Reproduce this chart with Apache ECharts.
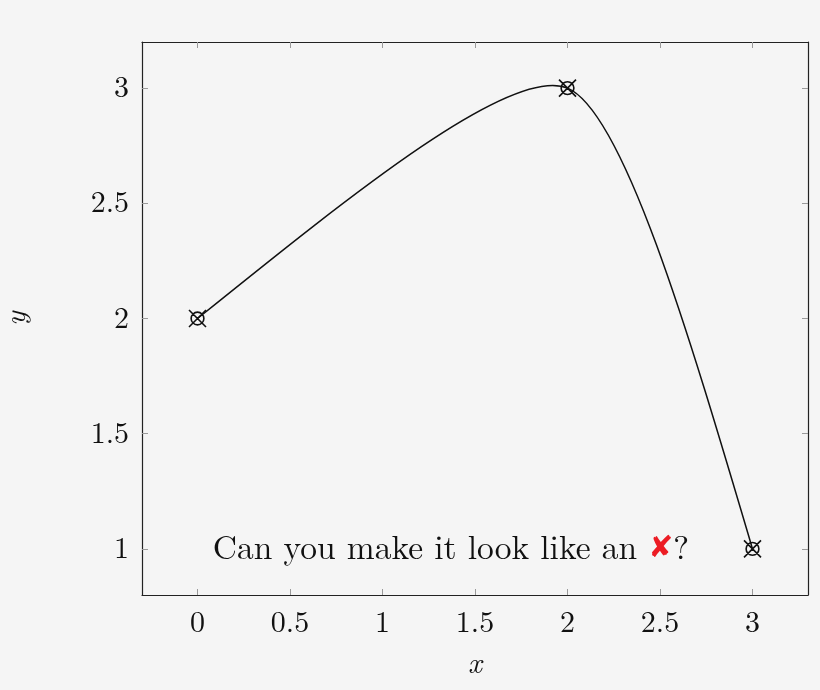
<!DOCTYPE html>
<html>
<head>
<meta charset="utf-8">
<script src="https://cdn.jsdelivr.net/npm/echarts@6/dist/echarts.min.js"></script>
<style>
  html, body { margin: 0; padding: 0; background: #f5f5f5; }
  #chart { width: 820px; height: 690px; }
</style>
</head>
<body>
<div id="chart"></div>
<script>
// data
var xs = [0, 2, 3];
var ys = [2, 3, 1];
var xTicks = [0, 0.5, 1, 1.5, 2, 2.5, 3];
var yTicks = [1, 1.5, 2, 2.5, 3];
var noteAt = [1.37, 1];

var chart = echarts.init(document.getElementById('chart'));
var serif = '"Latin Modern Roman", "Liberation Serif", "DejaVu Serif", serif';
// circle with a cross through it
var otimes = 'path://M2,2 L18,18 M18,2 L2,18 M16,10 A6,6 0 1,1 4,10 A6,6 0 1,1 16,10 Z';
var tension = 0.1;

var points = xs.map(function (x, i) { return [x, ys[i]]; });

// smooth curve through the points, tikz style: interior tangents from the
// neighbours, free ends get a natural end control
function renderCurve(params, api) {
    if (params.dataIndex !== 0) return;
    var p = points.map(function (d) { return api.coord(d); });
    var n = p.length;
    var tan = p.map(function (pt, i) {
        if (i === 0 || i === n - 1) return null;
        return [tension * (p[i + 1][0] - p[i - 1][0]), tension * (p[i + 1][1] - p[i - 1][1])];
    });
    var kids = [];
    for (var i = 0; i < n - 1; i++) {
        var a = p[i], b = p[i + 1];
        var c1 = tan[i] ? [a[0] + tan[i][0], a[1] + tan[i][1]] : null;
        var c2 = tan[i + 1] ? [b[0] - tan[i + 1][0], b[1] - tan[i + 1][1]] : null;
        if (!c1 && !c2) { c1 = a; c2 = b; }
        if (!c1) c1 = [(a[0] + c2[0]) / 2, (a[1] + c2[1]) / 2];
        if (!c2) c2 = [(b[0] + c1[0]) / 2, (b[1] + c1[1]) / 2];
        kids.push({
            type: 'bezierCurve',
            shape: { x1: a[0], y1: a[1], cpx1: c1[0], cpy1: c1[1], cpx2: c2[0], cpy2: c2[1], x2: b[0], y2: b[1] },
            style: { fill: null, stroke: '#111', lineWidth: 1.5 }
        });
    }
    return { type: 'group', children: kids };
}

function axisBase(pos, ticks, min, max, labels) {
    return {
        type: 'value',
        position: pos,
        min: min,
        max: max,
        axisLine: { show: true, onZero: false, lineStyle: { color: '#222', width: 1.2 } },
        axisTick: { show: true, inside: true, length: 6, customValues: ticks, lineStyle: { color: '#9a9a9a', width: 1 } },
        axisLabel: { show: labels, customValues: ticks, color: '#111', fontFamily: serif, fontSize: 30, margin: 13 },
        splitLine: { show: false }
    };
}

var xBottom = axisBase('bottom', xTicks, -0.3, 3.3, true);
xBottom.name = 'x';
xBottom.nameLocation = 'middle';
xBottom.nameGap = 54;
xBottom.nameTextStyle = { fontFamily: serif, fontStyle: 'italic', fontSize: 30, color: '#111' };
var xTop = axisBase('top', xTicks, -0.3, 3.3, false);

var yLeft = axisBase('left', yTicks, 0.8, 3.2, true);
yLeft.name = 'y';
yLeft.nameLocation = 'middle';
yLeft.nameGap = 111;
yLeft.nameRotate = 90;
yLeft.nameTextStyle = { fontFamily: serif, fontStyle: 'italic', fontSize: 30, color: '#111' };
var yRight = axisBase('right', yTicks, 0.8, 3.2, false);

chart.setOption({
    backgroundColor: '#f5f5f5',
    animation: false,
    grid: { left: 142, right: 12, top: 42, bottom: 95, outerBoundsMode: 'none', containLabel: false },
    xAxis: [xBottom, xTop],
    yAxis: [yLeft, yRight],
    series: [
        {
            type: 'custom',
            data: [points[0]],
            renderItem: renderCurve,
            silent: true,
            z: 2
        },
        {
            type: 'scatter',
            data: points,
            symbol: otimes,
            symbolSize: 17,
            silent: true,
            z: 3,
            itemStyle: { color: 'rgba(0,0,0,0)', borderColor: '#111', borderWidth: 1.6, opacity: 1 }
        },
        {
            type: 'scatter',
            data: [noteAt],
            symbolSize: 0,
            silent: true,
            itemStyle: { opacity: 1 },
            label: {
                show: true,
                position: 'inside',
                formatter: 'Can you make it look like an {x|✘}?',
                fontFamily: serif,
                fontSize: 33.5,
                color: '#111',
                rich: {
                    x: { color: '#ec1c24', fontSize: 30, fontStyle: 'italic', fontFamily: '"DejaVu Sans", sans-serif' }
                }
            }
        }
    ]
});
</script>
</body>
</html>
